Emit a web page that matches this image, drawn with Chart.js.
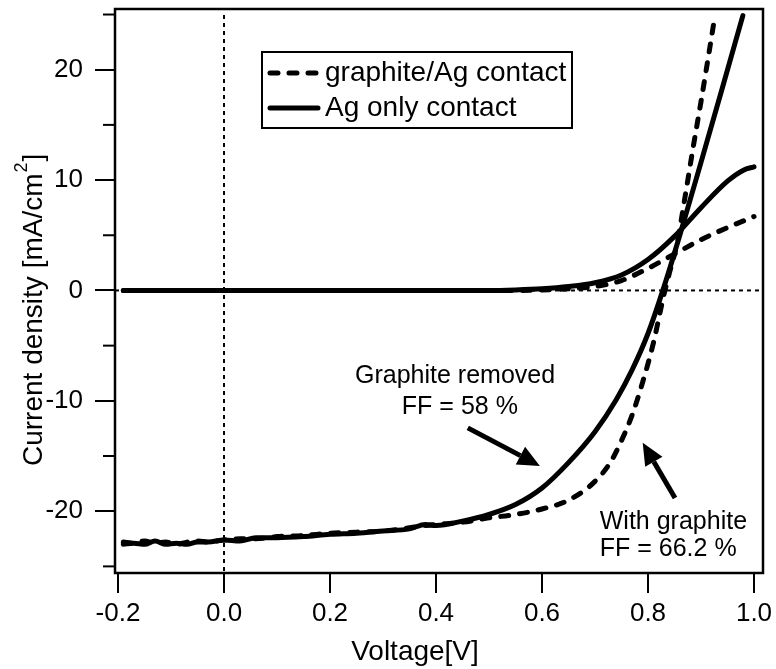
<!DOCTYPE html>
<html>
<head>
<meta charset="utf-8">
<script src="https://cdn.jsdelivr.net/npm/chart.js@4.4.1/dist/chart.umd.min.js"></script>
<style>
  html, body { margin: 0; padding: 0; background: #fff; }
  #wrap { width: 776px; height: 669px; }
</style>
</head>
<body>
<div id="wrap"><canvas id="c" width="776" height="669"></canvas></div>
<script>
// illuminated J-V, graphite/Ag contact (dashed)
const vLightGraphite = [-0.19,-0.17,-0.15,-0.13,-0.11,-0.09,-0.07,-0.05,-0.03,0.0,0.03,0.06,0.1,0.15,0.2,0.25,0.3,0.35,0.38,0.4,0.45,0.5,0.55,0.6,0.65,0.7,0.73,0.75,0.77,0.79,0.81,0.83,0.84,0.855,0.87,0.885,0.9,0.915,0.926];
const jLightGraphite = [-22.8,-22.9,-22.7,-22.9,-22.8,-23.0,-22.8,-22.7,-22.8,-22.6,-22.5,-22.5,-22.3,-22.2,-22.0,-21.9,-21.8,-21.5,-21.3,-21.2,-21.0,-20.6,-20.3,-19.8,-19.0,-17.3,-15.5,-13.6,-11.3,-8.3,-4.8,-0.4,1.5,4.3,8.5,12.9,17.1,21.5,24.8];

// illuminated J-V, Ag only contact (solid)
const vLightAg = [-0.19,-0.17,-0.15,-0.13,-0.11,-0.09,-0.07,-0.05,-0.03,0.0,0.03,0.06,0.1,0.15,0.2,0.25,0.3,0.35,0.38,0.4,0.45,0.5,0.55,0.6,0.65,0.7,0.74,0.77,0.8,0.83,0.86,0.9,0.94,0.979];
const jLightAg = [-23.0,-22.9,-23.0,-22.7,-23.0,-22.9,-23.0,-22.8,-22.8,-22.6,-22.7,-22.4,-22.4,-22.3,-22.1,-22.0,-21.8,-21.6,-21.2,-21.3,-20.9,-20.3,-19.4,-17.9,-15.6,-12.8,-9.9,-7.2,-3.9,0.3,5.0,11.6,18.3,24.9];

// dark J-V curves
const vDarkGraphite = [-0.19,0.0,0.2,0.4,0.55,0.6,0.65,0.7,0.75,0.8,0.85,0.9,0.95,0.98,1.0];
const jDarkGraphite = [0,0,0,0,0,0.05,0.15,0.35,0.9,2.0,3.3,4.6,5.7,6.3,6.7];
const vDarkAg = [-0.19,0.0,0.2,0.4,0.5,0.55,0.6,0.65,0.7,0.75,0.8,0.85,0.9,0.95,0.98,1.0];
const jDarkAg = [0,0,0,0,0,0.05,0.15,0.35,0.7,1.4,2.8,4.9,7.5,9.9,10.9,11.2];

const legendLabels = ['graphite/Ag contact', 'Ag only contact'];
const xTicks = [-0.2, 0.0, 0.2, 0.4, 0.6, 0.8, 1.0];
const xTickLabels = ['-0.2', '0.0', '0.2', '0.4', '0.6', '0.8', '1.0'];
const yTicks = [-20, -10, 0, 10, 20];
const yTickLabels = ['-20', '-10', '0', '10', '20'];
const yMinorTicks = [-25, -15, -5, 5, 15, 25];

const FONT = '"Liberation Sans", Arial, sans-serif';
Chart.defaults.font.family = FONT;
Chart.defaults.color = '#000';

function pts(xs, ys) {
  return xs.map((v, i) => ({ x: v, y: ys[i] }));
}

const dashed = { borderDash: [8, 11], borderWidth: 5, borderCapStyle: 'round' };
const solid = { borderWidth: 5, borderCapStyle: 'round' };

function line(data, style) {
  return Object.assign({
    data: data,
    borderColor: '#000',
    pointRadius: 0,
    fill: false,
    showLine: true,
    cubicInterpolationMode: 'monotone'
  }, style);
}

function arrow(ctx, x1, y1, x2, y2) {
  const ang = Math.atan2(y2 - y1, x2 - x1);
  const hl = 22, hw = 10;
  const bx = x2 - hl * Math.cos(ang), by = y2 - hl * Math.sin(ang);
  ctx.beginPath();
  ctx.moveTo(x1, y1);
  ctx.lineTo(bx, by);
  ctx.stroke();
  ctx.beginPath();
  ctx.moveTo(x2, y2);
  ctx.lineTo(bx + hw * Math.sin(ang), by - hw * Math.cos(ang));
  ctx.lineTo(bx - hw * Math.sin(ang), by + hw * Math.cos(ang));
  ctx.closePath();
  ctx.fill();
}

const decor = {
  id: 'decor',
  beforeDatasetsDraw(chart) {
    const { ctx, chartArea: a, scales: { x, y } } = chart;
    const x0 = x.getPixelForValue(0), y0 = y.getPixelForValue(0);
    ctx.save();
    ctx.strokeStyle = '#000';
    ctx.lineWidth = 2;
    ctx.setLineDash([4, 4]);
    ctx.beginPath(); ctx.moveTo(x0, a.top + 6); ctx.lineTo(x0, a.bottom); ctx.stroke();
    ctx.beginPath(); ctx.moveTo(a.left, y0); ctx.lineTo(a.right, y0); ctx.stroke();
    ctx.restore();
  },
  afterDraw(chart) {
    const { ctx, chartArea: a, scales: { x, y } } = chart;
    ctx.save();
    ctx.strokeStyle = '#000';
    ctx.fillStyle = '#000';

    // frame
    ctx.lineWidth = 2.5;
    ctx.strokeRect(a.left, a.top, a.right - a.left, a.bottom - a.top);

    // minor y ticks
    ctx.lineWidth = 2;
    yMinorTicks.forEach(v => {
      const py = y.getPixelForValue(v);
      ctx.beginPath(); ctx.moveTo(a.left - 12, py); ctx.lineTo(a.left, py); ctx.stroke();
    });

    // legend
    const lx = a.left + 147, ly = a.top + 43;
    ctx.lineWidth = 2;
    ctx.strokeRect(lx, ly, 310, 76);
    ctx.font = '28px ' + FONT;
    ctx.textBaseline = 'middle';
    ctx.textAlign = 'left';
    [dashed, solid].forEach((st, i) => {
      const yy = ly + 21 + i * 35;
      ctx.lineWidth = st.borderWidth;
      ctx.lineCap = 'round';
      ctx.setLineDash(st.borderDash || []);
      ctx.beginPath(); ctx.moveTo(lx + 8, yy); ctx.lineTo(lx + 56, yy); ctx.stroke();
      ctx.setLineDash([]);
      ctx.fillText(legendLabels[i], lx + 63, yy);
    });

    // annotations
    ctx.font = '25px ' + FONT;
    ctx.textAlign = 'center';
    ctx.fillText('Graphite removed', x.getPixelForValue(0.436), y.getPixelForValue(-7.8));
    ctx.fillText('FF = 58 %', x.getPixelForValue(0.445), y.getPixelForValue(-10.6));
    ctx.textAlign = 'left';
    ctx.fillText('With graphite', x.getPixelForValue(0.709), y.getPixelForValue(-21.0));
    ctx.fillText('FF = 66.2 %', x.getPixelForValue(0.709), y.getPixelForValue(-23.45));

    ctx.lineWidth = 5;
    ctx.lineCap = 'butt';
    arrow(ctx, x.getPixelForValue(0.460), y.getPixelForValue(-12.45),
               x.getPixelForValue(0.596), y.getPixelForValue(-15.9));
    arrow(ctx, x.getPixelForValue(0.851), y.getPixelForValue(-18.8),
               x.getPixelForValue(0.790), y.getPixelForValue(-13.8));

    // axis titles
    ctx.font = '28px ' + FONT;
    ctx.textAlign = 'center';
    ctx.textBaseline = 'middle';
    ctx.fillText('Voltage[V]', 415, 652);

    ctx.translate(34, 466);
    ctx.rotate(-Math.PI / 2);
    ctx.textAlign = 'left';
    const main = 'Current density [mA/cm';
    ctx.fillText(main, 0, 0);
    const w = ctx.measureText(main).width;
    ctx.font = '18px ' + FONT;
    ctx.fillText('2', w + 1, -12);
    const w2 = ctx.measureText('2').width;
    ctx.font = '28px ' + FONT;
    ctx.fillText(']', w + w2 + 2, 0);
    ctx.restore();
  }
};

new Chart(document.getElementById('c'), {
  type: 'scatter',
  data: {
    datasets: [
      line(pts(vLightGraphite, jLightGraphite), dashed),
      line(pts(vLightAg, jLightAg), solid),
      line(pts(vDarkGraphite, jDarkGraphite), dashed),
      line(pts(vDarkAg, jDarkAg), solid)
    ]
  },
  options: {
    responsive: false,
    animation: false,
    devicePixelRatio: 1,
    layout: { padding: { top: 9, right: 13, left: 0, bottom: 0 } },
    plugins: { legend: { display: false }, tooltip: { enabled: false } },
    scales: {
      x: {
        type: 'linear',
        min: -0.2057,
        max: 1.017,
        afterBuildTicks: s => { s.ticks = xTicks.map(v => ({ value: v })); },
        afterFit: s => { s.height = 96; s.paddingLeft = 0; s.paddingRight = 0; },
        ticks: {
          callback: (v, i) => xTickLabels[i],
          font: { size: 26 },
          color: '#000',
          padding: 5,
          maxRotation: 0,
          autoSkip: false
        },
        grid: { drawOnChartArea: false, tickLength: 20, color: '#000', lineWidth: 2 },
        border: { display: false }
      },
      y: {
        type: 'linear',
        min: -25.6,
        max: 25.5,
        afterBuildTicks: s => { s.ticks = yTicks.map(v => ({ value: v })); },
        afterFit: s => { s.width = 115; s.paddingTop = 0; s.paddingBottom = 0; },
        ticks: {
          callback: (v, i) => yTickLabels[i],
          font: { size: 26 },
          color: '#000',
          padding: 12,
          autoSkip: false
        },
        grid: { drawOnChartArea: false, tickLength: 20, color: '#000', lineWidth: 2 },
        border: { display: false }
      }
    }
  },
  plugins: [decor]
});
</script>
</body>
</html>
